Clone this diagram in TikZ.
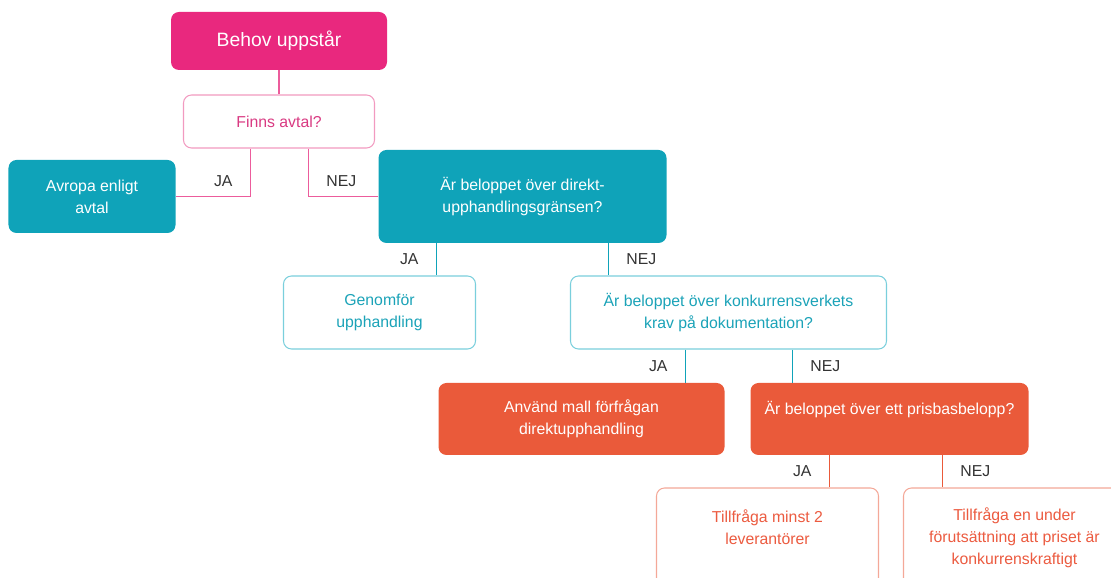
\documentclass[tikz,border=0pt]{standalone}
\usepackage{fontspec}
\setmainfont{Liberation Sans}
\usepackage{xcolor}
\usepackage{tikz}
\usetikzlibrary{shapes,arrows}
\definecolor{pinkFill}{HTML}{E9287E}
\definecolor{pinkEdge}{HTML}{F29AC0}
\definecolor{pinkText}{HTML}{D93A82}
\definecolor{pinkWire}{HTML}{EC5C9C}
\definecolor{tealFill}{HTML}{0FA3B9}
\definecolor{tealEdge}{HTML}{7ACFDC}
\definecolor{tealText}{HTML}{1BA3B8}
\definecolor{orangeFill}{HTML}{EA5A3A}
\definecolor{orangeEdge}{HTML}{F4A898}
\definecolor{orangeText}{HTML}{EC5B40}
\definecolor{labelGray}{HTML}{333333}
\tikzstyle{startBlock} = [rectangle, fill=pinkFill, text=white, font=\fontsize{11}{14}\selectfont,
    rounded corners=0.16cm, inner sep=0pt, minimum width=4.32cm, minimum height=1.16cm]
\tikzstyle{pinkQuestion} = [rectangle, draw=pinkEdge, line width=0.6pt, fill=white, text=pinkText,
    font=\fontsize{9}{12.5}\selectfont, rounded corners=0.16cm, inner sep=0pt, minimum width=3.82cm, minimum height=1.06cm]
\tikzstyle{tealBlock} = [rectangle, fill=tealFill, text=white, font=\fontsize{9}{12.5}\selectfont, align=center,
    rounded corners=0.16cm, inner sep=0pt, minimum height=1.46cm]
\tikzstyle{tealOpen} = [rectangle, draw=tealEdge, line width=0.6pt, fill=white, text=tealText, font=\fontsize{9}{12.5}\selectfont,
    align=center, rounded corners=0.16cm, inner sep=0pt, minimum height=1.46cm]
\tikzstyle{orangeBlock} = [rectangle, fill=orangeFill, text=white, font=\fontsize{9}{12.5}\selectfont, align=center,
    rounded corners=0.16cm, inner sep=0pt, minimum height=1.44cm]
\tikzstyle{orangeOpen} = [rectangle, draw=orangeEdge, line width=0.6pt, fill=white, text=orangeText, font=\fontsize{9}{12.5}\selectfont,
    align=center, rounded corners=0.16cm, inner sep=0pt, minimum width=4.44cm, minimum height=2cm]
\tikzstyle{pinkLine} = [draw=pinkWire, line width=1.1pt]
\tikzstyle{tealLine} = [draw=tealFill, line width=1.1pt]
\tikzstyle{orangeLine} = [draw=orangeFill, line width=1.1pt]
\tikzstyle{ja} = [left=0.34cm, inner sep=0pt, text=labelGray, font=\fontsize{9}{12.5}\selectfont]
\tikzstyle{nej} = [right=0.34cm, inner sep=0pt, text=labelGray, font=\fontsize{9}{12.5}\selectfont]

\begin{document}
\begin{tikzpicture}[node distance = 2cm, auto]
    \useasboundingbox (0,0) rectangle (22.22,-11.56);
    % Place nodes
    \node [startBlock] (behov) at (5.58,-0.82) {Behov uppstår};
    \node [pinkQuestion, below of=behov, node distance=1.61cm] (finns) {Finns avtal?};
    \node [tealBlock, below of=finns, node distance=1.5cm, xshift=-3.74cm, minimum width=3.34cm] (avropa) {Avropa enligt\\avtal};
    \node [tealBlock, below of=finns, node distance=1.5cm, xshift=4.87cm, minimum width=5.76cm, minimum height=1.86cm] (direkt) {Är beloppet över direkt-\\upphandlingsgränsen?};
    \node [tealOpen, below of=direkt, node distance=2.32cm, xshift=-2.86cm, minimum width=3.84cm] (genomfor) {Genomför\\upphandling};
    \node [tealOpen, below of=direkt, node distance=2.32cm, xshift=4.12cm, minimum width=6.32cm] (konkurrens) {Är beloppet över konkurrensverkets\\krav på dokumentation?};
    \node [orangeBlock, below of=konkurrens, node distance=2.13cm, xshift=-2.94cm, minimum width=5.72cm] (mall) {Använd mall förfrågan\\direktupphandling};
    \node [orangeBlock, below of=konkurrens, node distance=2.13cm, xshift=3.22cm, minimum width=5.56cm] (prisbas) {Är beloppet över ett prisbasbelopp?\\\mbox{}};
    \node [orangeOpen, below of=prisbas, node distance=2.38cm, xshift=-2.44cm] (minst) {Tillfråga minst 2\\leverantörer\\\mbox{}};
    \node [orangeOpen, below of=prisbas, node distance=2.38cm, xshift=2.5cm] (enunder) {Tillfråga en under\\förutsättning att priset är\\konkurrenskraftigt};

    % Draw edges
    \path [pinkLine] (behov) -- (finns);
    \path [pinkLine] ([xshift=-0.57cm]finns.south) |- node [pos=0.34, ja] {JA} (avropa.east);
    \path [pinkLine] ([xshift=0.59cm]finns.south) |- node [pos=0.34, nej] {NEJ} (direkt.west);
    \path [tealLine] ([xshift=-1.72cm]direkt.south) -- node [ja] {JA} ([xshift=-1.72cm]direkt.south |- genomfor.north);
    \path [tealLine] ([xshift=1.72cm]direkt.south) -- node [nej] {NEJ} ([xshift=1.72cm]direkt.south |- konkurrens.north);
    \path [tealLine] ([xshift=-0.86cm]konkurrens.south) -- node [ja] {JA} ([xshift=-0.86cm]konkurrens.south |- mall.north);
    \path [tealLine] ([xshift=1.28cm]konkurrens.south) -- node [nej] {NEJ} ([xshift=1.28cm]konkurrens.south |- prisbas.north);
    \path [orangeLine] ([xshift=-1.2cm]prisbas.south) -- node [ja] {JA} ([xshift=-1.2cm]prisbas.south |- minst.north);
    \path [orangeLine] ([xshift=1.06cm]prisbas.south) -- node [nej] {NEJ} ([xshift=1.06cm]prisbas.south |- enunder.north);
\end{tikzpicture}
\end{document}
